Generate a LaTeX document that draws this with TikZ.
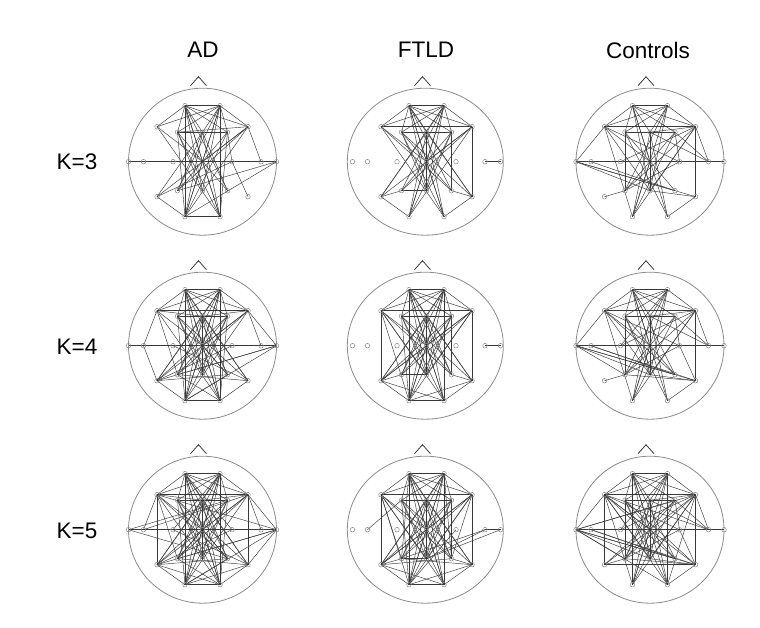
\documentclass[tikz,border=0pt]{standalone}
\usepackage{fontspec}
\setmainfont{Liberation Sans}
\pgfdeclarelayer{bg}
\pgfsetlayers{bg,main}
\tikzset{
  headline/.style={draw=black!45, line width=0.8pt},
  noseline/.style={draw=black!85, line width=0.7pt},
  elec/.style={circle, draw=black!45, line width=0.5pt, inner sep=0pt, minimum size=4.6pt},
  lnk/.style={draw=black!78, line width=0.45pt},
  lab/.style={font=\fontsize{22.5}{26}\selectfont, text=black, inner sep=0pt}
}
\def\elist{Fp1/-17.5/-56,Fp2/17.5/-56,F7/-45.5/-35,F3/-25/-29.5,Fz/0/-29.5,F4/25/-29.5,F8/45.5/-35,A1/-74/0,T3/-59/0,C3/-29.5/0,Cz/0/0,C4/29.5/0,T4/58.5/0,A2/74/0,T5/-45.5/35,P3/-25/29,Pz/0/29,P4/25/29,T6/45.5/35,O1/-17.5/55,O2/17.5/55}
\newcommand{\eeghead}[5]{%
  \draw[headline] (#2+#4,#3) ellipse [x radius=#5pt, y radius=73.5pt];
  \draw[noseline] (#2-12,#3-76) -- (#2-4,#3-85) -- (#2+4,#3-76);
  \foreach \n/\dx/\dy in \elist {\node[elec] (#1\n) at (#2+\dx,#3+\dy) {};}
}
\newcommand{\links}[2]{%
  \begin{pgfonlayer}{bg}
  \foreach \u/\v in {#2}{\draw[lnk] (#1\u.center) -- (#1\v.center);}
  \end{pgfonlayer}
}
\begin{document}
\begin{tikzpicture}[x=1pt,y=-1pt]
\begin{pgfonlayer}{bg}
\fill[white] (0,0) rectangle (760,628);
\end{pgfonlayer}
\useasboundingbox (0,0) rectangle (760,628);
% labels
\node[lab] (tAD) at (203,50) {AD};
\node[lab] (tFT) at (426,50) {FTLD};
\node[lab] (tCO) at (648,50) {Controls};
\node[lab] (k3) at (77,162) {K=3};
\node[lab] (k4) at (77,347) {K=4};
\node[lab] (k5) at (77,531) {K=5};
% heads
\eeghead{a3}{202.5}{161.7}{0}{74}
\eeghead{a4}{202.5}{345.7}{0}{74}
\eeghead{a5}{202.5}{529.7}{0}{74}
\eeghead{f3}{426.5}{161.7}{-1.2}{78}
\eeghead{f4}{426.5}{345.7}{-1.2}{78}
\eeghead{f5}{426.5}{529.7}{-1.2}{78}
\eeghead{c3}{650}{161.7}{0}{74}
\eeghead{c4}{650}{345.7}{0}{74}
\eeghead{c5}{650}{529.7}{0}{74}
% AD K=3
\links{a3}{A1/A2,Fp1/Fp2,F3/F4,F3/Fz,O1/O2,
Fp1/F7,Fp1/F3,Fp1/Fz,Fp1/F4,Fp1/F8,Fp1/Cz,Fp1/P4,Fp1/O2,Fp1/Pz,Fp1/O1,
Fp2/F3,Fp2/Fz,Fp2/F4,Fp2/F8,Fp2/Cz,Fp2/P3,Fp2/O1,Fp2/Pz,Fp2/F7,Fp2/O2,
F7/Cz,F7/O2,
F8/T4,F8/Cz,F8/P3,F8/T5,F8/O1,F8/F3,
F3/O1,F3/O2,F3/Pz,F3/P4,
Fz/O1,Fz/O2,Fz/P3,Fz/P4,Fz/T5,
F4/O1,F4/O2,F4/P3,F4/C4,
A2/P3,A2/O1,
T5/O1,T5/C4,
Cz/O1,Cz/O2,C4/T6}
% AD K=4
\links{a4}{A1/A2,Fp1/Fp2,F7/F8,F3/F4,F3/Fz,O1/O2,
Fp1/F7,Fp2/F8,F7/T3,T3/T5,F8/A2,Fp1/O1,Fp2/O2,
Fp1/F3,Fp1/Fz,Fp1/F4,Fp1/F8,Fp1/Cz,Fp1/P4,Fp1/O2,Fp1/Pz,Fp1/T6,
Fp2/F7,Fp2/F3,Fp2/Fz,Fp2/F4,Fp2/Cz,Fp2/P3,Fp2/O1,Fp2/Pz,Fp2/T5,
F7/Cz,F7/P3,F7/O2,F7/Fz,
F8/Fz,F8/Cz,F8/P3,F8/T5,F8/O1,F8/T4,
F3/O1,F3/O2,F3/Pz,F3/P4,F3/T6,
Fz/O1,Fz/O2,Fz/P3,Fz/P4,Fz/T5,Fz/T6,Fz/Pz,
F4/O1,F4/O2,F4/P3,F4/T5,F4/Pz,
A2/P3,A2/O1,A2/T5,
T5/O1,T5/C4,T5/P4,
T6/O2,T6/C3,T6/P3,
Cz/O1,Cz/O2,Cz/P4,
P3/O2,P4/O1}
% AD K=5
\links{a5}{A1/A2,Fp1/Fp2,F7/F8,F3/F4,F3/Fz,O1/O2,
Fp1/F7,Fp2/F8,F7/T3,F8/A2,T6/A2,A1/F4,T3/F8,F7/A2,A1/P4,Fp1/O1,Fp2/O2,
Fp1/F3,Fp1/Fz,Fp1/F4,Fp1/F8,Fp1/Cz,Fp1/P4,Fp1/O2,Fp1/Pz,Fp1/T6,Fp1/C4,
Fp2/F7,Fp2/F3,Fp2/Fz,Fp2/F4,Fp2/Cz,Fp2/P3,Fp2/O1,Fp2/Pz,Fp2/T5,Fp2/C3,
F7/Cz,F7/P3,F7/O2,F7/Fz,F7/T5,F7/P4,
F8/Fz,F8/Cz,F8/P3,F8/T5,F8/O1,F8/T4,F8/T6,
F3/O1,F3/O2,F3/Pz,F3/P4,F3/T6,
Fz/O1,Fz/O2,Fz/P3,Fz/P4,Fz/T5,Fz/T6,Fz/Pz,
F4/O1,F4/O2,F4/P3,F4/T5,F4/Pz,
A2/P3,A2/O1,A2/T5,
T5/O1,T5/C4,T5/P4,T5/O2,
T6/O2,T6/C3,T6/P3,T6/O1,
Cz/O1,Cz/O2,Cz/P4,Cz/P3,
P3/O2,P4/O1}
% FTLD K=3
\links{f3}{T4/A2,Fp1/Fp2,F7/F8,F3/F4,F3/Fz,
Fp1/F7,Fp2/F8,Fp2/F7,Fp1/F8,
Fp1/F3,Fp1/Fz,Fp1/F4,Fp1/Cz,Fp1/Pz,Fp1/P4,Fp1/O2,Fp1/T6,
Fp2/F3,Fp2/Fz,Fp2/F4,Fp2/Cz,Fp2/Pz,Fp2/P3,Fp2/O1,Fp2/T5,
F7/Cz,F7/P4,F7/O2,
F8/O1,F8/T5,F8/P3,F8/Cz,F8/T6,
F3/O2,F3/P4,F3/Pz,F3/T6,
F4/O1,F4/P3,F4/Pz,F4/P4,
Fz/O1,Fz/O2,Fz/T5,Fz/T6,Fz/Pz,
T5/O1,T5/P3,
T6/O2,T6/P4,
P3/Pz,Cz/O1,Cz/O2}
% FTLD K=4
\links{f4}{T4/A2,Fp1/Fp2,F7/F8,F3/F4,F3/Fz,O1/O2,
Fp1/F7,Fp2/F8,Fp2/F7,Fp1/F8,F7/T5,
Fp1/F3,Fp1/Fz,Fp1/F4,Fp1/Cz,Fp1/Pz,Fp1/P4,Fp1/O2,Fp1/T6,Fp1/O1,
Fp2/F3,Fp2/Fz,Fp2/F4,Fp2/Cz,Fp2/Pz,Fp2/P3,Fp2/O1,Fp2/T5,Fp2/O2,
F7/Cz,F7/P4,F7/O2,F7/Pz,F7/O1,
F8/O1,F8/T5,F8/P3,F8/Cz,F8/T6,F8/Pz,
F3/O2,F3/P4,F3/Pz,F3/T6,F3/O1,
F4/O1,F4/P3,F4/Pz,F4/P4,F4/T5,
Fz/O1,Fz/O2,Fz/T5,Fz/T6,Fz/Pz,Fz/P3,Fz/P4,
T5/O1,T5/P3,T5/O2,T5/Cz,
T6/O2,T6/P4,T6/O1,
P3/Pz,Cz/O1,Cz/O2}
% FTLD K=5
\links{f5}{T4/A2,Fp1/Fp2,F7/F8,F3/F4,F3/Fz,O1/O2,
Fp1/F7,Fp2/F8,Fp2/F7,Fp1/F8,F7/T5,T3/F3,T4/P3,A2/Pz,T4/Pz,
Fp1/F3,Fp1/Fz,Fp1/F4,Fp1/Cz,Fp1/Pz,Fp1/P4,Fp1/O2,Fp1/T6,Fp1/O1,Fp1/P3,
Fp2/F3,Fp2/Fz,Fp2/F4,Fp2/Cz,Fp2/Pz,Fp2/P3,Fp2/O1,Fp2/T5,Fp2/O2,Fp2/P4,
F7/Cz,F7/P4,F7/O2,F7/Pz,F7/O1,F7/P3,
F8/O1,F8/T5,F8/P3,F8/Cz,F8/T6,F8/Pz,F8/P4,
F3/O2,F3/P4,F3/Pz,F3/T6,F3/O1,
F4/O1,F4/P3,F4/Pz,F4/P4,F4/T5,
Fz/O1,Fz/O2,Fz/T5,Fz/T6,Fz/Pz,Fz/P3,Fz/P4,
T5/O1,T5/P3,T5/O2,T5/Cz,T5/P4,
T6/O2,T6/P4,T6/O1,T6/P3,
P3/Pz,Cz/O1,Cz/O2,C4/O1}
% Controls K=3
\links{c3}{A1/A2,Fp1/Fp2,F7/F8,F3/F4,
A1/F7,A1/P4,A1/Pz,A1/T6,T3/P4,
Fp1/F7,Fp1/F3,Fp1/Fz,Fp1/F4,Fp1/F8,Fp1/Cz,Fp1/Pz,Fp1/O2,
Fp2/F7,Fp2/F3,Fp2/Fz,Fp2/F8,Fp2/P3,Fp2/O1,Fp2/Pz,
F7/Cz,F7/Pz,F7/O1,F7/C4,
F8/T4,F8/T6,F8/P3,F8/O1,F8/C3,F8/Pz,F8/Fz,
F3/P3,F3/O2,F3/P4,
Fz/O1,Fz/Pz,Fz/O2,Fz/T4,
F4/C4,F4/O1,F4/P3,F4/T4,
T5/P3,T6/O2,T6/Pz,
Cz/O1,C4/P3}
% Controls K=4
\links{c4}{A1/A2,Fp1/Fp2,F7/F8,F3/F4,
A1/F7,A1/P4,A1/Pz,A1/T6,T3/P4,A1/P3,T3/T6,
Fp1/F7,Fp1/F3,Fp1/Fz,Fp1/F4,Fp1/F8,Fp1/Cz,Fp1/Pz,Fp1/O2,Fp1/P4,
Fp2/F7,Fp2/F3,Fp2/Fz,Fp2/F8,Fp2/P3,Fp2/O1,Fp2/Pz,Fp2/C3,
F7/Cz,F7/Pz,F7/O1,F7/C4,F7/P4,
F8/T4,F8/T6,F8/P3,F8/O1,F8/C3,F8/Pz,F8/Fz,
F3/P3,F3/O2,F3/P4,F3/Pz,
Fz/O1,Fz/Pz,Fz/O2,Fz/T4,
F4/C4,F4/O1,F4/P3,F4/T4,
T5/P3,T6/O2,T6/Pz,T6/P3,
Cz/O1,C4/P3,C4/T6}
% Controls K=5
\links{c5}{A1/A2,Fp1/Fp2,F7/F8,F3/F4,
F7/T5,T5/T6,F8/T6,
A1/F7,A1/P4,A1/Pz,A1/T6,T3/P4,A1/P3,T3/T6,A1/F4,A1/F8,A1/O2,
Fp1/F7,Fp1/F3,Fp1/Fz,Fp1/F4,Fp1/F8,Fp1/Cz,Fp1/Pz,Fp1/O2,Fp1/P4,Fp1/O1,
Fp2/F7,Fp2/F3,Fp2/Fz,Fp2/F8,Fp2/P3,Fp2/O1,Fp2/Pz,Fp2/C3,Fp2/O2,
F7/Cz,F7/Pz,F7/O1,F7/C4,F7/P4,F7/O2,F7/T6,F7/T4,
F8/T4,F8/P3,F8/O1,F8/C3,F8/Pz,F8/Fz,F8/T5,F8/O2,
F3/P3,F3/O2,F3/P4,F3/Pz,F3/T6,
Fz/O1,Fz/Pz,Fz/O2,Fz/T4,Fz/P3,
F4/C4,F4/O1,F4/P3,F4/T4,F4/T5,
T5/P3,T6/O2,T6/Pz,T6/P3,
Cz/O1,C4/P3,C4/T6}
\end{tikzpicture}
\end{document}
